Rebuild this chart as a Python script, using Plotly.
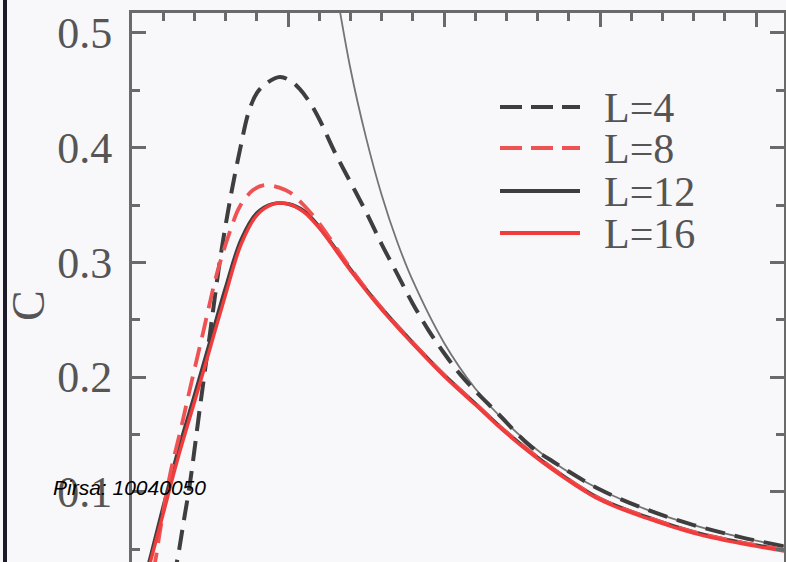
import plotly.graph_objects as go

# ---------------- data ----------------
# L = 4 (black dashed)
T_L4 = [0.130, 0.144, 0.165, 0.186, 0.218, 0.250, 0.282, 0.314, 0.346, 0.375, 0.401, 0.430,
        0.474, 0.510, 0.538, 0.571, 0.600, 0.650, 0.700, 0.750, 0.800, 0.850, 0.900, 0.950,
        1.000, 1.050, 1.100, 1.170, 1.276, 1.350, 1.500, 1.650, 1.800, 1.950, 2.100]
C_L4 = [0.024, 0.039, 0.073, 0.108, 0.174, 0.238, 0.302, 0.354, 0.398, 0.432, 0.448, 0.456,
        0.4616, 0.458, 0.451, 0.439, 0.425, 0.396, 0.370, 0.344, 0.316, 0.290, 0.264, 0.241,
        0.221, 0.203, 0.188, 0.169, 0.140, 0.1262, 0.102, 0.0845, 0.071, 0.0605, 0.052]

# L = 8 (red dashed)
T_L8 = [0.065, 0.074, 0.090, 0.122, 0.155, 0.186, 0.228, 0.272, 0.314, 0.346, 0.388, 0.426,
        0.474, 0.506, 0.550, 0.600, 0.700, 0.800, 0.900, 1.000, 1.100, 1.200, 1.350, 1.500,
        1.650, 1.800, 1.950, 2.100]
C_L8 = [0.030, 0.039, 0.066, 0.115, 0.153, 0.190, 0.239, 0.290, 0.327, 0.349, 0.363, 0.3675,
        0.365, 0.361, 0.350, 0.334, 0.295, 0.260, 0.230, 0.202, 0.177, 0.152, 0.120, 0.094,
        0.078, 0.065, 0.056, 0.049]

# L = 12 (black solid) and L = 16 (red solid)
T_L12 = [0.05, 0.06, 0.10, 0.15, 0.20, 0.25, 0.30, 0.35, 0.40, 0.45, 0.50, 0.55, 0.60,
         0.70, 0.80, 0.90, 1.00, 1.10, 1.20, 1.35, 1.50, 1.65, 1.80, 1.95, 2.10]
C_L12 = [0.034, 0.044, 0.087, 0.138, 0.184, 0.231, 0.278, 0.320, 0.343, 0.351, 0.351, 0.345, 0.331,
         0.294, 0.260, 0.230, 0.202, 0.177, 0.152, 0.120, 0.094, 0.078, 0.065, 0.056, 0.049]

T_L16 = [0.05, 0.06, 0.10, 0.15, 0.20, 0.25, 0.30, 0.35, 0.40, 0.45, 0.50, 0.55, 0.60,
         0.70, 0.80, 0.90, 1.00, 1.10, 1.20, 1.35, 1.50, 1.65, 1.80, 1.95, 2.10]
C_L16 = [0.030, 0.040, 0.081, 0.132, 0.178, 0.225, 0.272, 0.316, 0.341, 0.3505, 0.351, 0.344, 0.330,
         0.293, 0.259, 0.229, 0.201, 0.176, 0.151, 0.119, 0.093, 0.077, 0.064, 0.055, 0.048]

# thin grey reference curve (high-temperature)
T_ref = [0.640, 0.700, 0.750, 0.800, 0.850, 0.900, 1.000, 1.100, 1.200, 1.350, 1.500,
         1.650, 1.800, 1.950, 2.100]
C_ref = [0.5615, 0.469, 0.409, 0.359, 0.318, 0.284, 0.230, 0.190, 0.160, 0.126, 0.102,
         0.0845, 0.071, 0.0605, 0.052]

legend_labels = ["L=4", "L=8", "L=12", "L=16"]
y_ticks = [0.1, 0.2, 0.3, 0.4, 0.5]

# ---------------- styles ----------------
BG = "#f8f7fa"
AX = "#6a6a6a"
BLACK = "#3e3e3e"
RED = "#f03c3c"
RED_D = "#ee5252"
SERIF = "Liberation Serif, Times New Roman, serif"
DASH = "20px,10px"

fig = go.Figure()
fig.add_trace(go.Scatter(x=T_ref, y=C_ref, mode="lines", line=dict(color="#747474", width=1.8),
                         line_shape="spline", name="ref"))
fig.add_trace(go.Scatter(x=T_L4, y=C_L4, mode="lines", line=dict(color=BLACK, width=4, dash=DASH),
                         line_shape="spline", name=legend_labels[0]))
fig.add_trace(go.Scatter(x=T_L12, y=C_L12, mode="lines", line=dict(color=BLACK, width=3.6),
                         line_shape="spline", name=legend_labels[2]))
fig.add_trace(go.Scatter(x=T_L8, y=C_L8, mode="lines", line=dict(color=RED_D, width=3.8, dash=DASH),
                         line_shape="spline", name=legend_labels[1]))
fig.add_trace(go.Scatter(x=T_L16, y=C_L16, mode="lines", line=dict(color=RED, width=3.4),
                         line_shape="spline", name=legend_labels[3]))

# plot area in pixels: left 132, right 784, top 13, bottom 562
PL, PR, PT, PB = 132, 784, 13, 562
W, H = PR - PL, PB - PT


def px_x(p):
    return (p - PL) / W


def px_y(p):
    return 1 - (p - PT) / H


# manual legend (long line samples like the original)
leg_rows = [107, 148, 191, 233]
leg_styles = [(BLACK, "dash"), (RED_D, "dash"), (BLACK, "solid"), (RED, "solid")]
shapes = []
annotations = []
for lab, row, (col, d) in zip(legend_labels, leg_rows, leg_styles):
    shapes.append(dict(type="line", xref="paper", yref="paper",
                       x0=px_x(500), x1=px_x(580), y0=px_y(row), y1=px_y(row),
                       line=dict(color=col, width=4, dash=("22px,9px" if d == "dash" else "solid"))))
    annotations.append(dict(text=lab, xref="paper", yref="paper", x=px_x(602), y=px_y(row + 1),
                            xanchor="left", yanchor="middle", showarrow=False,
                            font=dict(family=SERIF, size=42, color="#555555")))

# axis title "C"
annotations.append(dict(text="C", xref="paper", yref="paper", x=px_x(28), y=px_y(306),
                        xanchor="center", yanchor="middle", showarrow=False, textangle=-90,
                        font=dict(family=SERIF, size=46, color="#555555")))
# watermark
annotations.append(dict(text="<i>Pirsa: 10040050</i>", xref="paper", yref="paper",
                        x=px_x(51), y=px_y(487), xanchor="left", yanchor="middle", showarrow=False,
                        font=dict(family="Liberation Sans, Arial, sans-serif", size=21, color="#000000")))

# dark stripe at the very left edge of the frame grab
shapes.append(dict(type="rect", xref="paper", yref="paper", x0=px_x(3), x1=px_x(7),
                   y0=px_y(562), y1=px_y(0), line=dict(width=0), fillcolor="#1c1c28", layer="above"))

fig.update_layout(
    width=786, height=562,
    margin=dict(l=PL, r=786 - PR, t=PT, b=0, pad=0),
    paper_bgcolor=BG, plot_bgcolor=BG,
    showlegend=False,
    shapes=shapes, annotations=annotations,
    xaxis=dict(range=[0, W / 312.0], side="top", showline=True, linecolor=AX, linewidth=3,
               mirror=False, ticks="inside", ticklen=14, tickwidth=3, tickcolor=AX,
               tick0=0, dtick=0.5, showticklabels=False, showgrid=False, zeroline=False,
               minor=dict(ticks="inside", ticklen=8, tickwidth=2.5, tickcolor=AX, dtick=0.1,
                          showgrid=False)),
    yaxis=dict(range=[0.0388, 0.5174], showline=True, linecolor=AX, linewidth=3,
               mirror="allticks", ticks="inside", ticklen=14, tickwidth=3, tickcolor=AX,
               tickvals=y_ticks, ticktext=[f"{v:.1f}" for v in y_ticks],
               tickfont=dict(family=SERIF, size=44, color="#555555"), ticklabelstandoff=8,
               showgrid=False, zeroline=False,
               minor=dict(ticks="inside", ticklen=8, tickwidth=2.5, tickcolor=AX, dtick=0.05,
                          tick0=0, showgrid=False)),
)

fig.write_html("out.html", config={"displayModeBar": False},
               post_script="document.body.style.margin='0';document.body.style.overflow='hidden';")
